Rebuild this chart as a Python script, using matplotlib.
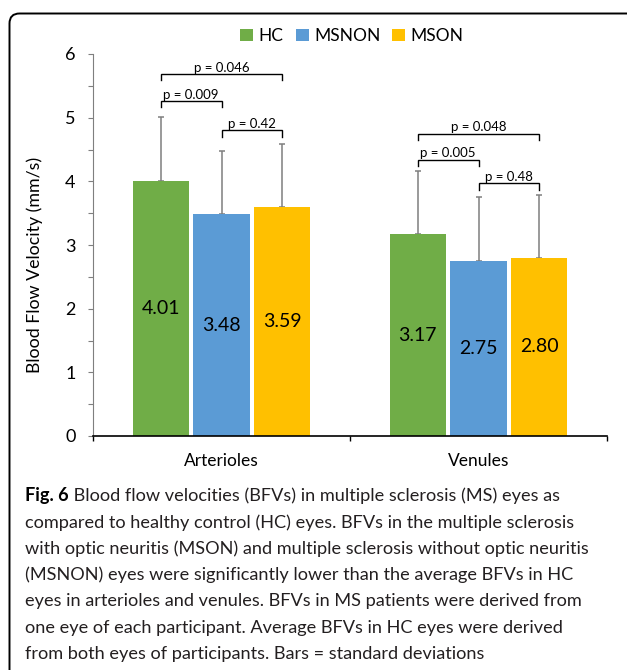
import matplotlib
matplotlib.use("Agg")
import matplotlib.pyplot as plt
from matplotlib.patches import FancyBboxPatch, Patch
import numpy as np

# ---- data ----
categories = ["Arterioles", "Venules"]
groups = ["HC", "MSNON", "MSON"]
hc = [4.01, 3.17]
msnon = [3.48, 2.75]
mson = [3.59, 2.80]
sd_hc = [1.00, 1.00]
sd_msnon = [1.00, 1.00]
sd_mson = [0.99, 0.99]
value_labels_hc = ["4.01", "3.17"]
value_labels_msnon = ["3.48", "2.75"]
value_labels_mson = ["3.59", "2.80"]
# comparisons: (category index, group a, group b, bracket height, label)
bracket_cat = [0, 0, 0, 1, 1, 1]
bracket_a = [0, 0, 1, 0, 0, 1]
bracket_b = [2, 1, 2, 2, 1, 2]
bracket_y = [5.69, 5.26, 4.80, 4.75, 4.34, 3.97]
bracket_txt = ["p = 0.046", "p = 0.009", "p = 0.42", "p = 0.048", "p = 0.005", "p = 0.48"]
yticks = [0, 1, 2, 3, 4, 5, 6]
ylabel = "Blood Flow Velocity (mm/s)"
caption_bold = "Fig. 6"
caption_lines = [
    " Blood flow velocities (BFVs) in multiple sclerosis (MS) eyes as",
    "compared to healthy control (HC) eyes. BFVs in the multiple sclerosis",
    "with optic neuritis (MSON) and multiple sclerosis without optic neuritis",
    "(MSNON) eyes were significantly lower than the average BFVs in HC",
    "eyes in arterioles and venules. BFVs in MS patients were derived from",
    "one eye of each participant. Average BFVs in HC eyes were derived",
    "from both eyes of participants. Bars = standard deviations",
]

colors = ["#70AD47", "#5B9BD5", "#FFC000"]
W, H = 627, 670
DPI = 100
plt.rcParams["font.family"] = ["Lato", "DejaVu Sans"]

fig = plt.figure(figsize=(W / DPI, H / DPI), dpi=DPI)
fig.patch.set_facecolor("white")

# rounded frame
frame = FancyBboxPatch((9.5 / DPI, -0.3), 6.6, (H - 13.5) / DPI + 0.3,
                       boxstyle="round,pad=0,rounding_size=0.1",
                       transform=fig.dpi_scale_trans, fill=False,
                       edgecolor="black", linewidth=1.4, zorder=0)
fig.patches.append(frame)

ax_l, ax_r, ax_t, ax_b = 93, 607, 54, 436
ax = fig.add_axes([ax_l / W, 1 - ax_b / H, (ax_r - ax_l) / W, (ax_b - ax_t) / H])

x = np.arange(len(categories))
bw = 0.218
step = 0.237
series = [hc, msnon, mson]
sds = [sd_hc, sd_msnon, sd_mson]
vlabels = [value_labels_hc, value_labels_msnon, value_labels_mson]
for i, (vals, sd, col, lab) in enumerate(zip(series, sds, colors, groups)):
    pos = x + (i - 1) * step
    ax.bar(pos, vals, width=bw, color=col, label=lab, zorder=2)
    ax.errorbar(pos, vals, yerr=[np.zeros(len(vals)), sd], fmt="none",
                ecolor="#7F7F7F", elinewidth=1.1, capsize=2.5, capthick=1.1, zorder=1)
    for p, v, t in zip(pos, vals, vlabels[i]):
        ax.text(p, v / 2, t, ha="center", va="center", fontsize=14, color="black", zorder=3)

leg_drop = 0.1
for c, a, b, yb, t in zip(bracket_cat, bracket_a, bracket_b, bracket_y, bracket_txt):
    xa = x[c] + (a - 1) * step
    xb = x[c] + (b - 1) * step
    ax.plot([xa, xa, xb, xb], [yb - leg_drop, yb, yb, yb - leg_drop],
            color="black", lw=1.0, solid_joinstyle="miter", zorder=3)
    ax.text((xa + xb) / 2, yb + 0.035, t, ha="center", va="baseline", fontsize=9.5)

ax.set_xlim(-0.5, 1.5)
ax.set_ylim(0, 6)
ax.set_yticks(yticks)
ax.set_yticks(np.arange(0, 6.01, 0.5), minor=True)
ax.tick_params(axis="y", which="both", direction="out", length=5 * 72 / DPI,
               color="#7F7F7F", width=0.8, labelsize=13, pad=9)
ax.set_xticks([-0.5, 0.5, 1.5])
ax.set_xticklabels([])
ax.set_xticks(x, minor=True)
ax.set_xticklabels(categories, minor=True)
ax.tick_params(axis="x", which="major", direction="out", length=5 * 72 / DPI,
               color="black", width=1.0)
ax.tick_params(axis="x", which="minor", length=0, labelsize=12.5, pad=12)
for s in ["top", "right"]:
    ax.spines[s].set_visible(False)
ax.spines["left"].set_color("#7F7F7F")
ax.spines["left"].set_linewidth(0.8)
ax.spines["bottom"].set_color("black")
ax.spines["bottom"].set_linewidth(1.2)
ax.set_ylabel(ylabel, fontsize=12.8)
ax.yaxis.set_label_coords(-0.098, (ax_b - 265) / (ax_b - ax_t))

handles = [Patch(facecolor=c, edgecolor="none") for c in colors]
fig.legend(handles, groups, loc="center", bbox_to_anchor=(352 / W, 1 - 36 / H),
           ncol=3, frameon=False, fontsize=12.5, handlelength=0.75, handleheight=0.75,
           handletextpad=0.3, columnspacing=0.7, borderpad=0)

# caption
cap_font = ["Lato", "DejaVu Sans"]
cap_x = 25
cap_y0 = 496
cap_dy = 26.3
cap_fs = 13.1
renderer = fig.canvas.get_renderer()
tb = fig.text(cap_x / W, 1 - cap_y0 / H, caption_bold, fontweight="bold",
              fontsize=cap_fs, va="center", ha="left", family=cap_font)
bb = tb.get_window_extent(renderer=renderer)
for k, line in enumerate(caption_lines):
    xx = bb.x1 / fig.bbox.width if k == 0 else cap_x / W
    fig.text(xx, 1 - (cap_y0 + k * cap_dy) / H, line, family=cap_font,
             fontsize=cap_fs, va="center", ha="left", color="#231F20")

fig.savefig("out.png", dpi=DPI, facecolor="white")
